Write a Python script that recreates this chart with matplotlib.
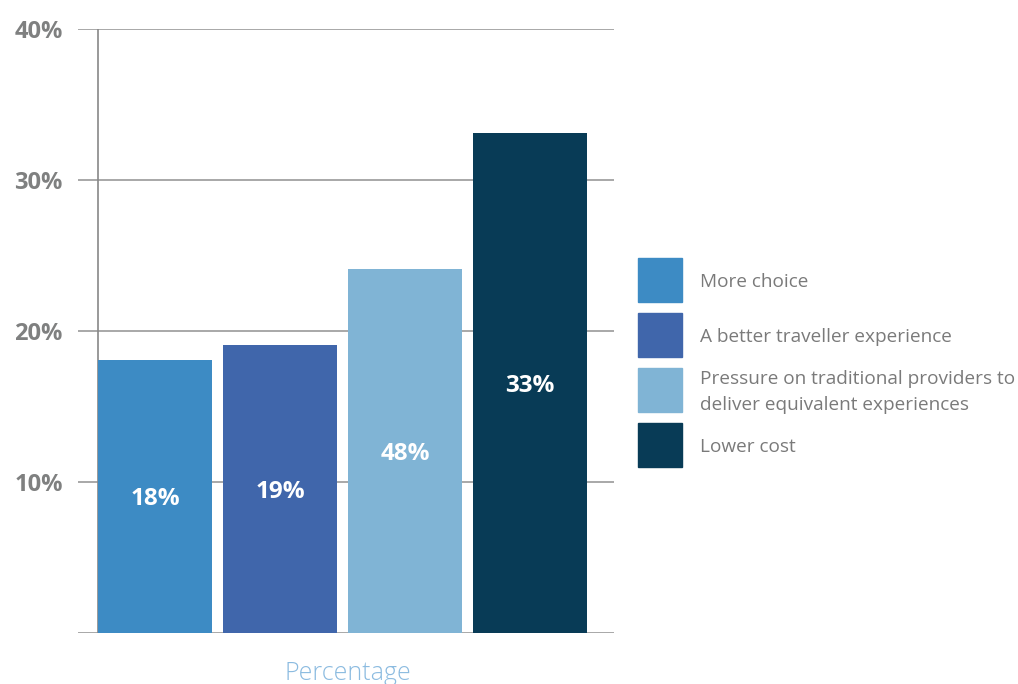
import matplotlib
matplotlib.use("Agg")
import matplotlib.pyplot as plt
from matplotlib.patches import Rectangle

categories = ["More choice", "A better traveller experience",
              "Pressure on traditional providers to\ndeliver equivalent experiences",
              "Lower cost"]
values = [18.1, 19.1, 24.1, 33.1]
bar_labels = ["18%", "19%", "48%", "33%"]
colors = ["#3d8bc4", "#4066ab", "#80b4d5", "#083b56"]
yticks = [0, 10, 20, 30, 40]
ytick_labels = ["", "10%", "20%", "30%", "40%"]

plt.rcParams['font.family'] = ['Open Sans', 'DejaVu Sans']

W, H = 1018, 684
fig = plt.figure(figsize=(W / 100, H / 100), dpi=100)
ax = fig.add_axes([78 / W, 1 - 633 / H, (614 - 78) / W, (633 - 29) / H])

pos = list(range(len(values)))
width = 0.912
bars = ax.bar(pos, values, width=width, color=colors, zorder=3)

for b, lab in zip(bars, bar_labels):
    ax.text(b.get_x() + b.get_width() / 2, b.get_height() / 2, lab,
            ha='center', va='center_baseline', color='white', fontsize=17.5,
            fontweight='bold', zorder=4)

ax.set_xlim(-0.616, 3.672)
ax.set_ylim(0, 40)
ax.set_yticks(yticks)
ax.set_yticklabels(ytick_labels, fontsize=17, fontweight='bold', color='#7f8080')
ax.tick_params(axis='y', length=0, pad=11)
ax.set_xticks([])
ax.grid(axis='y', color='#999999', linewidth=1.2, zorder=1)
for s in ax.spines.values():
    s.set_visible(False)
ax.axvline(pos[0] - width / 2, color='#888888', linewidth=1.2, zorder=2)

fig.text(348 / W, 1 - 673 / H, "Percentage", ha='center', va='center',
         fontsize=18, fontweight='light', color='#8bbbe0')

# legend
ys = [280, 335, 390, 445]
for c, lab, y in zip(colors, categories, ys):
    fig.add_artist(Rectangle((638 / W, 1 - (y + 22) / H), 44 / W, 44 / H,
                             transform=fig.transFigure, color=c))
    fig.text(700 / W, 1 - (y + 2) / H, lab, ha='left', va='center', fontsize=13.7,
             color='#7a7a7a', linespacing=1.55)

fig.savefig("out.png", dpi=100)
